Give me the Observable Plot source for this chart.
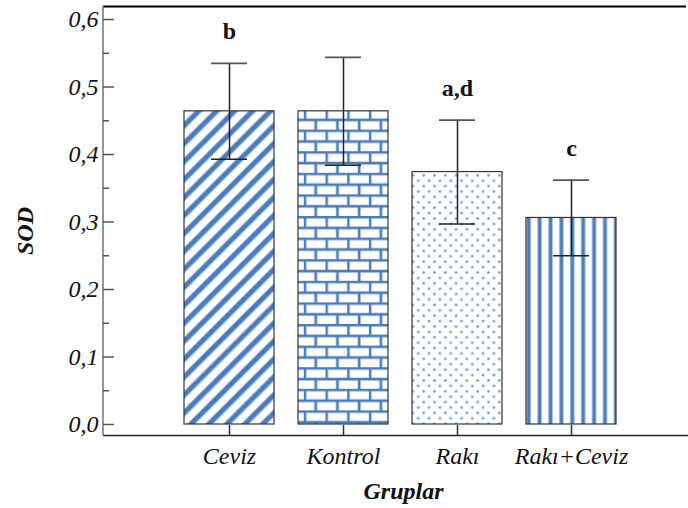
<!DOCTYPE html>
<html>
<head>
<meta charset="utf-8">
<script src="https://cdn.jsdelivr.net/npm/d3@7"></script>
<script src="https://cdn.jsdelivr.net/npm/@observablehq/plot@0.6"></script>
<style>
  html, body { margin: 0; padding: 0; background: #fff; }
  #chart { width: 688px; height: 508px; }
  #chart svg text { font-family: "Liberation Serif", "Times New Roman", Times, serif; }
</style>
</head>
<body>
<div id="chart"></div>
<script>
// ---- data ----
const groups = ["Ceviz", "Kontrol", "Rakı", "Rakı+Ceviz"];
const means = [0.464, 0.464, 0.374, 0.306];
const sds = [0.071, 0.080, 0.077, 0.056];
const letters = ["b", "", "a,d", "c"];
const majorTicks = [0, 0.1, 0.2, 0.3, 0.4, 0.5, 0.6];
const minorTicks = [0.05, 0.15, 0.25, 0.35, 0.45, 0.55];
const yDomain = [-0.0163, 0.6193];
const yLabel = "SOD";
const xLabel = "Gruplar";

// ---- styles (fills) ----
const fillFor = {
  "Ceviz": "url(#pDiag)",
  "Kontrol": "url(#pBrick)",
  "Rakı": "url(#pDots)",
  "Rakı+Ceviz": "url(#pVert)"
};

const rows = groups.map((g, i) => ({group: g, mean: means[i], sd: sds[i], letter: letters[i]}));
const fmt = d => d.toFixed(1).replace(".", ",");
const font = "Liberation Serif";

const leftLine = (index, scales, values, dim) => {
  const l = d3.create("svg:line")
    .attr("x1", dim.marginLeft).attr("x2", dim.marginLeft)
    .attr("y1", dim.marginTop).attr("y2", dim.height - dim.marginBottom)
    .attr("stroke", "#7a7a7a").attr("stroke-width", 1.6);
  return l.node();
};

const chart = Plot.plot({
  width: 688,
  height: 508,
  marginLeft: 103,
  marginRight: 0,
  marginTop: 6,
  marginBottom: 73,
  style: {fontFamily: font, background: "#fff", color: "#111"},
  x: {domain: groups, range: [171.55, 628.75], paddingInner: 0.21, paddingOuter: 0.105, label: null},
  y: {domain: yDomain, label: null},
  marks: [
    ...groups.map(g => Plot.barY(rows.filter(d => d.group === g), {
      x: "group", y: "mean", fill: fillFor[g], stroke: "#333", strokeWidth: 1.2
    })),
    Plot.ruleX(rows, {x: "group", y1: d => d.mean - d.sd, y2: d => d.mean + d.sd, stroke: "#222", strokeWidth: 1.5}),
    Plot.tickY(rows, {x: "group", y: d => d.mean + d.sd, stroke: "#555", strokeWidth: 1.8, insetLeft: 27, insetRight: 27}),
    Plot.tickY(rows, {x: "group", y: d => d.mean - d.sd, stroke: "#222", strokeWidth: 1.5, insetLeft: 27, insetRight: 27}),
    Plot.text(rows.filter(d => d.letter), {x: "group", y: d => d.mean + d.sd, text: "letter", dy: -24, lineAnchor: "bottom", fontFamily: font, fontWeight: "bold", fontSize: 24, fill: "#111"}),
    Plot.ruleY([yDomain[1]], {stroke: "#000", strokeWidth: 2, insetRight: 2}),
    Plot.ruleY([yDomain[0]], {stroke: "#222", strokeWidth: 1.6}),
    leftLine,
    Plot.axisY({ticks: majorTicks, tickSize: -11, tickFormat: () => "", stroke: "#555", strokeWidth: 1.5, label: null}),
    Plot.axisY({ticks: minorTicks, tickSize: -6, tickFormat: () => "", stroke: "#555", strokeWidth: 1.5, label: null}),
    Plot.axisY({ticks: majorTicks, tickSize: 0, tickPadding: 5, tickFormat: fmt, fontFamily: font, fontSize: 24, fontStyle: "italic", fill: "#111", label: null}),
    Plot.axisX({tickSize: -10, tickFormat: () => "", stroke: "#333", strokeWidth: 1.5, label: null}),
    Plot.axisX({tickSize: 0, tickPadding: 11, fontFamily: font, fontSize: 24, fontStyle: "italic", fill: "#111", label: null}),
    Plot.text([yLabel], {frameAnchor: "left", text: d => d, rotate: -90, dx: -71, dy: 10, lineAnchor: "bottom", textAnchor: "middle", fontFamily: font, fontWeight: "bold", fontStyle: "italic", fontSize: 24, fill: "#111"}),
    Plot.text([xLabel], {frameAnchor: "bottom", text: d => d, dx: 7.5, dy: 63, lineAnchor: "bottom", textAnchor: "middle", fontFamily: font, fontWeight: "bold", fontStyle: "italic", fontSize: 24, fill: "#111"})
  ]
});

const blue = "#4a7cbd";
const light = "#a9c2e3";
d3.select(chart).insert("defs", ":first-child").html(`
  <pattern id="pDiag" patternUnits="userSpaceOnUse" width="12.7" height="12.7" patternTransform="rotate(45)">
    <rect width="12.7" height="12.7" fill="#fff"/>
    <rect x="0" width="6.2" height="12.7" fill="${light}"/>
    <rect x="0.9" width="4.4" height="12.7" fill="${blue}"/>
  </pattern>
  <pattern id="pBrick" patternUnits="userSpaceOnUse" width="21.7" height="21.6">
    <rect width="21.7" height="21.6" fill="#fff"/>
    <g fill="${light}">
      <rect x="0" y="-0.5" width="21.7" height="3.2"/>
      <rect x="0" y="10.3" width="21.7" height="3.2"/>
      <rect x="-0.5" y="0" width="3.2" height="10.8"/>
      <rect x="10.35" y="10.8" width="3.2" height="10.8"/>
    </g>
    <g fill="${blue}">
      <rect x="0" y="0" width="21.7" height="2.2"/>
      <rect x="0" y="10.8" width="21.7" height="2.2"/>
      <rect x="0" y="0" width="2.2" height="10.8"/>
      <rect x="10.85" y="10.8" width="2.2" height="10.8"/>
    </g>
  </pattern>
  <pattern id="pDots" patternUnits="userSpaceOnUse" width="10.8" height="10.8">
    <rect width="10.8" height="10.8" fill="#fff"/>
    <circle cx="2.5" cy="2.5" r="1.5" fill="#8fb2e0"/>
    <circle cx="7.9" cy="7.9" r="1.5" fill="#8fb2e0"/>
    <circle cx="2.5" cy="2.5" r="0.8" fill="#5b8bcb"/>
    <circle cx="7.9" cy="7.9" r="0.8" fill="#5b8bcb"/>
  </pattern>
  <pattern id="pVert" patternUnits="userSpaceOnUse" width="10.9" height="10">
    <rect width="10.9" height="10" fill="#fff"/>
    <rect x="3" width="5" height="10" fill="${light}"/>
    <rect x="4.1" width="2.8" height="10" fill="${blue}"/>
  </pattern>
`);

document.getElementById("chart").appendChild(chart);
</script>
</body>
</html>
